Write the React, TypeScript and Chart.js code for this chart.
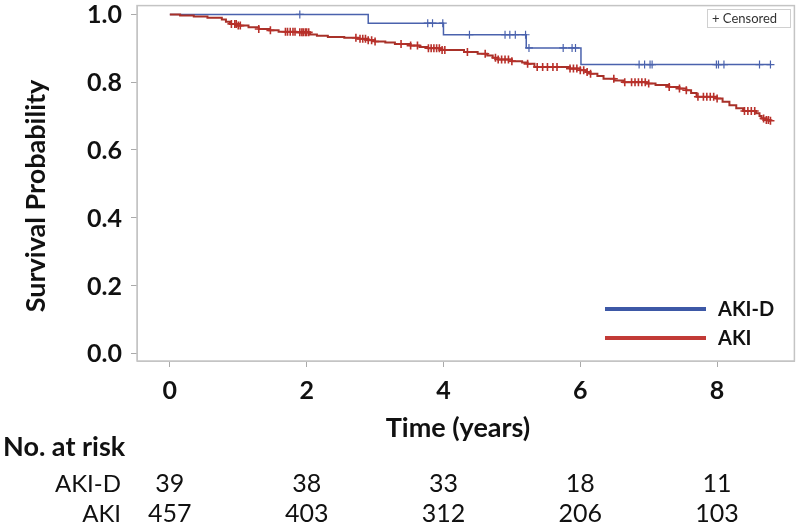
import React, { useEffect, useRef } from "react";
import { Chart, registerables } from "chart.js";

Chart.register(...registerables);

// ---- data ----
const X_TICKS = [0, 2, 4, 6, 8];
const Y_TICKS = [0, 0.2, 0.4, 0.6, 0.8, 1.0];

const AKID_TIMES = [0, 2.9, 4.0, 5.21, 6.01, 8.79];
const AKID_SURV = [1.0, 0.974, 0.94, 0.901, 0.852, 0.852];
const AKID_CENSOR = [1.9, 3.77, 3.84, 3.99, 4.38, 4.9, 4.97, 5.05, 5.2, 5.25, 5.75, 5.88, 5.93, 6.86, 6.94, 7.02, 7.05, 7.99, 8.02, 8.1, 8.62, 8.78];

const AKI_TIMES = [0, 0.15, 0.35, 0.55, 0.76, 0.82, 0.88, 1.0, 1.15, 1.3, 1.45, 1.59, 1.85, 2.05, 2.15, 2.31, 2.55, 2.75, 2.9, 3.0, 3.15, 3.29, 3.52, 3.65, 3.77, 3.96, 4.3, 4.5, 4.64, 4.72, 4.8, 5.0, 5.15, 5.23, 5.33, 5.85, 6.0, 6.08, 6.15, 6.25, 6.34, 6.5, 6.63, 6.97, 7.1, 7.3, 7.45, 7.55, 7.62, 7.7, 7.99, 8.08, 8.18, 8.28, 8.38, 8.57, 8.62, 8.65, 8.72, 8.76, 8.78];
const AKI_SURV = [1.0, 0.997, 0.994, 0.99, 0.985, 0.978, 0.972, 0.967, 0.962, 0.957, 0.953, 0.949, 0.947, 0.941, 0.937, 0.933, 0.931, 0.928, 0.924, 0.92, 0.917, 0.913, 0.908, 0.904, 0.9, 0.895, 0.889, 0.884, 0.879, 0.872, 0.867, 0.862, 0.858, 0.854, 0.845, 0.84, 0.835, 0.83, 0.825, 0.818, 0.81, 0.805, 0.8, 0.796, 0.792, 0.786, 0.781, 0.776, 0.768, 0.757, 0.752, 0.742, 0.732, 0.723, 0.715, 0.708, 0.7, 0.693, 0.688, 0.686, 0.686];
const AKI_CENSOR = [0.9, 0.95, 0.97, 1.0, 1.03, 1.3, 1.47, 1.69, 1.72, 1.76, 1.8, 1.83, 1.9, 1.93, 1.95, 1.98, 2.0, 2.03, 2.72, 2.78, 2.82, 2.86, 2.9, 2.95, 3.0, 3.38, 3.52, 3.62, 3.78, 3.82, 3.86, 3.9, 3.94, 3.98, 4.02, 4.35, 4.61, 4.76, 4.8, 4.85, 4.9, 4.95, 5.0, 5.23, 5.37, 5.45, 5.52, 5.6, 5.66, 5.85, 5.9, 5.95, 6.0, 6.05, 6.1, 6.15, 6.49, 6.65, 6.75, 6.8, 6.85, 6.9, 6.95, 7.0, 7.3, 7.45, 7.55, 7.72, 7.8, 7.85, 7.9, 7.95, 8.0, 8.4, 8.45, 8.5, 8.55, 8.68, 8.72, 8.75, 8.78];

const RISK_GROUPS = ["AKI-D", "AKI"];
const RISK_AKID = [39, 38, 33, 18, 11];
const RISK_AKI = [457, 403, 312, 206, 103];

const BLUE = "#4a62ad";
const RED = "#a83129";
const LEG_BLUE = "#3d58a6";
const LEG_RED = "#c23a36";
const FONT = "Lato, 'Open Sans', sans-serif";

function stepAt(times: number[], surv: number[], t: number) {
  let v = surv[0];
  for (let i = 0; i < times.length; i++) if (times[i] <= t) v = surv[i];
  return v;
}

const overlay = {
  id: "overlay",
  afterDraw(chart: any) {
    const ctx = chart.ctx as CanvasRenderingContext2D;
    const a = chart.chartArea;
    const xs = chart.scales.x;
    const ys = chart.scales.y;
    ctx.save();
    // plot frame
    ctx.strokeStyle = "#c4c4c4";
    ctx.lineWidth = 1.5;
    ctx.strokeRect(a.left, a.top, a.right - a.left, a.bottom - a.top);

    ctx.fillStyle = "#111";
    // y tick labels
    ctx.font = `bold 25px ${FONT}`;
    ctx.textAlign = "right";
    ctx.textBaseline = "middle";
    Y_TICKS.forEach((v) => ctx.fillText(v.toFixed(1), 122, ys.getPixelForValue(v) + 1));
    // x tick labels
    ctx.textAlign = "center";
    X_TICKS.forEach((v) => ctx.fillText(String(v), xs.getPixelForValue(v), 391));

    // axis titles
    ctx.font = `bold 27px ${FONT}`;
    ctx.fillText("Time (years)", 458, 428);
    ctx.save();
    ctx.translate(36, 196);
    ctx.rotate(-Math.PI / 2);
    ctx.fillText("Survival Probability", 0, 0);
    ctx.restore();

    // risk table
    ctx.textAlign = "left";
    ctx.font = `bold 27px ${FONT}`;
    ctx.fillText("No. at risk", 3, 447);
    ctx.font = `24px ${FONT}`;
    ctx.textAlign = "right";
    ctx.fillText(RISK_GROUPS[0], 121, 484);
    ctx.fillText(RISK_GROUPS[1], 121, 514);
    ctx.font = `25px ${FONT}`;
    ctx.textAlign = "center";
    X_TICKS.forEach((v, i) => {
      const px = xs.getPixelForValue(v);
      ctx.fillText(String(RISK_AKID[i]), px, 484);
      ctx.fillText(String(RISK_AKI[i]), px, 514);
    });

    // legend
    ctx.lineWidth = 4;
    ctx.strokeStyle = LEG_BLUE;
    ctx.beginPath();
    ctx.moveTo(605, 309);
    ctx.lineTo(706, 309);
    ctx.stroke();
    ctx.strokeStyle = LEG_RED;
    ctx.beginPath();
    ctx.moveTo(605, 338);
    ctx.lineTo(706, 338);
    ctx.stroke();
    ctx.font = `bold 20px ${FONT}`;
    ctx.textAlign = "left";
    ctx.fillStyle = "#111";
    ctx.fillText("AKI-D", 718, 310);
    ctx.fillText("AKI", 718, 339);

    // censored box
    ctx.strokeStyle = "#d0d0d0";
    ctx.lineWidth = 1;
    ctx.strokeRect(707.5, 9.5, 83, 18);
    ctx.font = `13px ${FONT}`;
    ctx.fillStyle = "#333";
    ctx.fillText("+ Censored", 712, 19);
    ctx.restore();
  },
};

export default function App() {
  const ref = useRef<HTMLCanvasElement | null>(null);
  useEffect(() => {
    document.body.style.margin = "0";
    const akidLine = AKID_TIMES.map((t, i) => ({ x: t, y: AKID_SURV[i] }));
    const akiLine = AKI_TIMES.map((t, i) => ({ x: t, y: AKI_SURV[i] }));
    const akidCens = AKID_CENSOR.map((t) => ({ x: t, y: stepAt(AKID_TIMES, AKID_SURV, t) }));
    const akiCens = AKI_CENSOR.map((t) => ({ x: t, y: stepAt(AKI_TIMES, AKI_SURV, t) }));
    const chart = new Chart(ref.current as HTMLCanvasElement, {
      type: "line",
      data: {
        datasets: [
          { label: "AKI censored", data: akiCens, showLine: false, pointStyle: "cross", pointRadius: 4, pointBorderWidth: 1.6, borderColor: "#b8302a", backgroundColor: "#b8302a" },
          { label: "AKI", data: akiLine, stepped: true, pointRadius: 0, borderColor: RED, borderWidth: 2 },
          { label: "AKI-D censored", data: akidCens, showLine: false, pointStyle: "cross", pointRadius: 4, pointBorderWidth: 1.2, borderColor: BLUE, backgroundColor: BLUE },
          { label: "AKI-D", data: akidLine, stepped: true, pointRadius: 0, borderColor: BLUE, borderWidth: 1.5 },
        ],
      },
      options: {
        animation: false,
        responsive: true,
        maintainAspectRatio: false,
        layout: { padding: { left: 131, top: 3, right: 2, bottom: 160 } },
        plugins: { legend: { display: false }, tooltip: { enabled: false } },
        scales: {
          x: {
            type: "linear",
            min: -0.48,
            max: 9.13,
            afterBuildTicks: (s: any) => { s.ticks = X_TICKS.map((v) => ({ value: v })); },
            ticks: { display: false },
            grid: { drawOnChartArea: false, drawTicks: true, tickLength: 6, color: "#aaaaaa" },
            border: { display: true, color: "#c4c4c4" },
          },
          y: {
            type: "linear",
            min: -0.023,
            max: 1.026,
            afterBuildTicks: (s: any) => { s.ticks = Y_TICKS.map((v) => ({ value: v })); },
            ticks: { display: false },
            grid: { drawOnChartArea: false, drawTicks: true, tickLength: 6, color: "#aaaaaa" },
            border: { display: true, color: "#c4c4c4" },
          },
        },
      },
      plugins: [overlay],
    });
    return () => chart.destroy();
  }, []);
  return (
    <div style={{ position: "fixed", left: 0, top: 0, width: 800, height: 527, background: "#fff" }}>
      <canvas ref={ref} />
    </div>
  );
}
